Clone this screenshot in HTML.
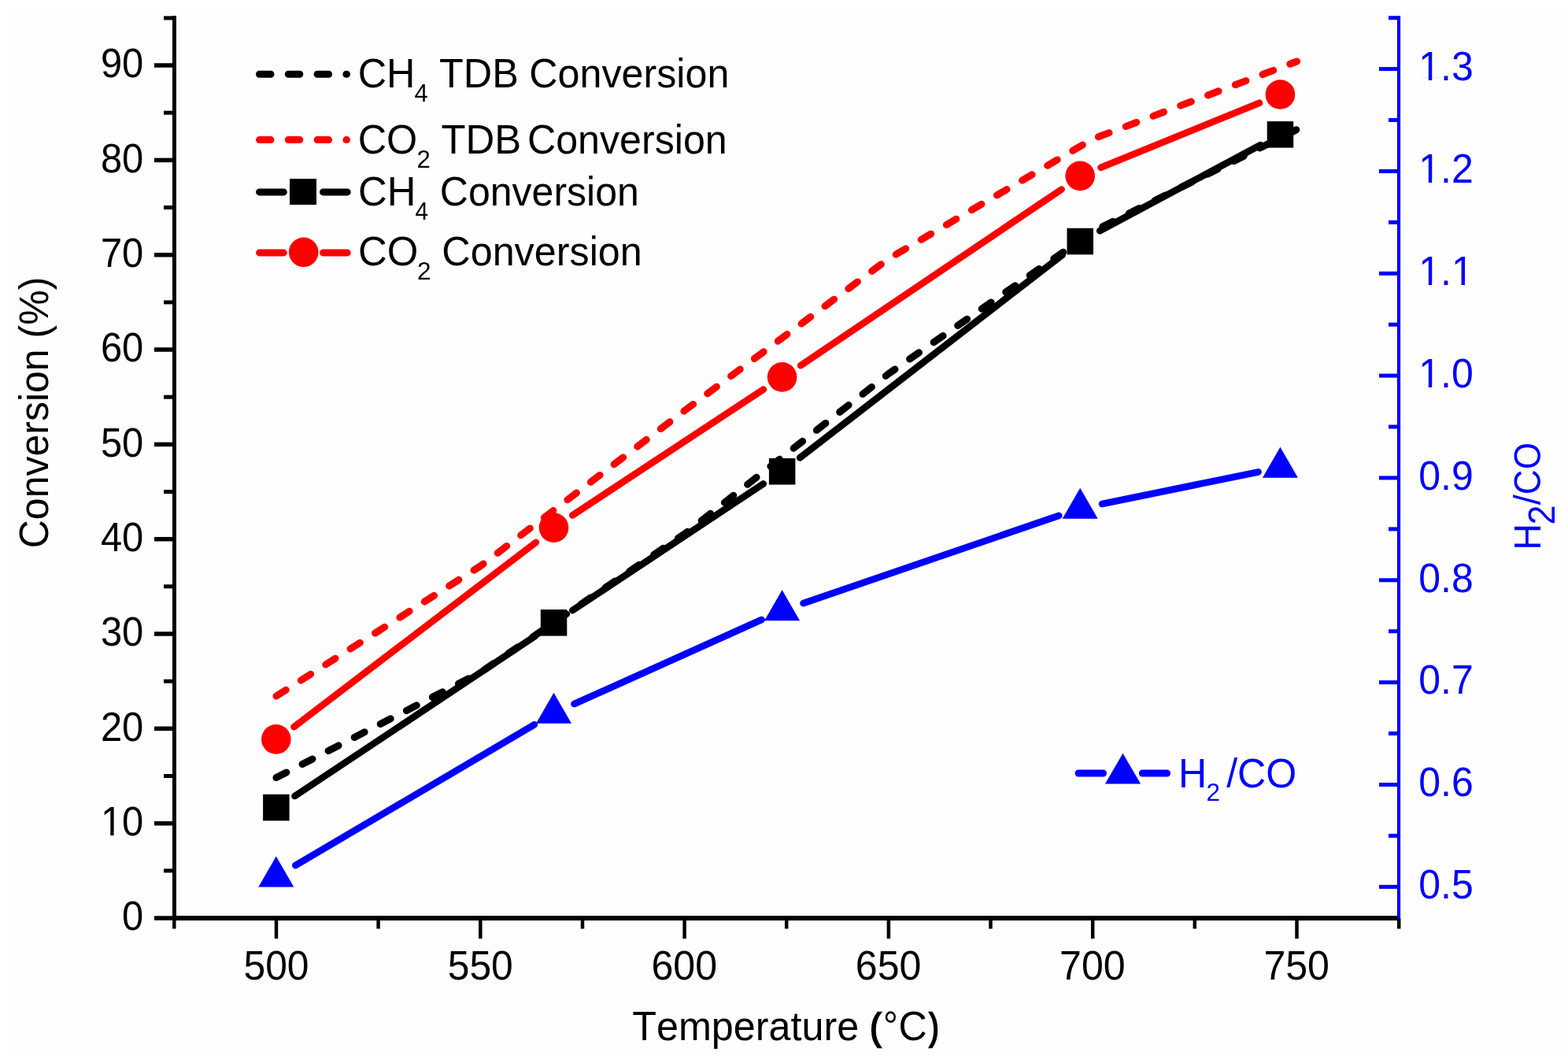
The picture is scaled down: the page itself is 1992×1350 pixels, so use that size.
<!DOCTYPE html>
<html><head><meta charset="utf-8"><title>Conversion vs Temperature</title><style>html,body{margin:0;padding:0;background:#fff;overflow:hidden}svg{display:block}text{font-family:"Liberation Sans",Arial,sans-serif;font-kerning:none;font-feature-settings:"kern" 0}</style></head><body>
<svg width="1992" height="1350" viewBox="0 0 1992 1350">
<rect x="9" y="18" width="1983" height="1319" fill="#fefefe"/>
<line x1="221.5" y1="20" x2="221.5" y2="1169" stroke="#000" stroke-width="5"/>
<line x1="196" y1="1166.0" x2="221.5" y2="1166.0" stroke="#000" stroke-width="5.5"/>
<line x1="196" y1="1045.7" x2="221.5" y2="1045.7" stroke="#000" stroke-width="5.5"/>
<line x1="196" y1="925.3" x2="221.5" y2="925.3" stroke="#000" stroke-width="5.5"/>
<line x1="196" y1="805.0" x2="221.5" y2="805.0" stroke="#000" stroke-width="5.5"/>
<line x1="196" y1="684.7" x2="221.5" y2="684.7" stroke="#000" stroke-width="5.5"/>
<line x1="196" y1="564.4" x2="221.5" y2="564.4" stroke="#000" stroke-width="5.5"/>
<line x1="196" y1="444.0" x2="221.5" y2="444.0" stroke="#000" stroke-width="5.5"/>
<line x1="196" y1="323.7" x2="221.5" y2="323.7" stroke="#000" stroke-width="5.5"/>
<line x1="196" y1="203.4" x2="221.5" y2="203.4" stroke="#000" stroke-width="5.5"/>
<line x1="196" y1="83.0" x2="221.5" y2="83.0" stroke="#000" stroke-width="5.5"/>
<line x1="208" y1="1105.8" x2="221.5" y2="1105.8" stroke="#000" stroke-width="5"/>
<line x1="208" y1="985.5" x2="221.5" y2="985.5" stroke="#000" stroke-width="5"/>
<line x1="208" y1="865.2" x2="221.5" y2="865.2" stroke="#000" stroke-width="5"/>
<line x1="208" y1="744.8" x2="221.5" y2="744.8" stroke="#000" stroke-width="5"/>
<line x1="208" y1="624.5" x2="221.5" y2="624.5" stroke="#000" stroke-width="5"/>
<line x1="208" y1="504.2" x2="221.5" y2="504.2" stroke="#000" stroke-width="5"/>
<line x1="208" y1="383.9" x2="221.5" y2="383.9" stroke="#000" stroke-width="5"/>
<line x1="208" y1="263.5" x2="221.5" y2="263.5" stroke="#000" stroke-width="5"/>
<line x1="208" y1="143.2" x2="221.5" y2="143.2" stroke="#000" stroke-width="5"/>
<line x1="208" y1="22.9" x2="221.5" y2="22.9" stroke="#000" stroke-width="5"/>
<text x="155.12" y="1181.20" font-size="52" fill="#000" textLength="27.18" lengthAdjust="spacingAndGlyphs">0</text>
<text x="127.94" y="1060.87" font-size="52" fill="#000" textLength="54.37" lengthAdjust="spacingAndGlyphs">10</text><rect x="130.86" y="1056.59" width="9.37" height="5.08" fill="#fefefe"/><rect x="144.55" y="1056.59" width="9.99" height="5.08" fill="#fefefe"/>
<text x="127.94" y="940.54" font-size="52" fill="#000" textLength="54.37" lengthAdjust="spacingAndGlyphs">20</text>
<text x="127.94" y="820.21" font-size="52" fill="#000" textLength="54.37" lengthAdjust="spacingAndGlyphs">30</text>
<text x="127.94" y="699.88" font-size="52" fill="#000" textLength="54.37" lengthAdjust="spacingAndGlyphs">40</text>
<text x="127.94" y="579.55" font-size="52" fill="#000" textLength="54.37" lengthAdjust="spacingAndGlyphs">50</text>
<text x="127.94" y="459.22" font-size="52" fill="#000" textLength="54.37" lengthAdjust="spacingAndGlyphs">60</text>
<text x="127.94" y="338.89" font-size="52" fill="#000" textLength="54.37" lengthAdjust="spacingAndGlyphs">70</text>
<text x="127.94" y="218.56" font-size="52" fill="#000" textLength="54.37" lengthAdjust="spacingAndGlyphs">80</text>
<text x="127.94" y="98.23" font-size="52" fill="#000" textLength="54.37" lengthAdjust="spacingAndGlyphs">90</text>
<line x1="219" y1="1166" x2="1779" y2="1166" stroke="#000" stroke-width="6"/>
<line x1="351.0" y1="1166" x2="351.0" y2="1192" stroke="#000" stroke-width="4.5"/>
<text x="309.46" y="1244.40" font-size="52" fill="#000" textLength="83.04" lengthAdjust="spacingAndGlyphs">500</text>
<line x1="610.3" y1="1166" x2="610.3" y2="1192" stroke="#000" stroke-width="4.5"/>
<text x="568.76" y="1244.40" font-size="52" fill="#000" textLength="83.04" lengthAdjust="spacingAndGlyphs">550</text>
<line x1="869.6" y1="1166" x2="869.6" y2="1192" stroke="#000" stroke-width="4.5"/>
<text x="827.51" y="1244.40" font-size="52" fill="#000" textLength="83.60" lengthAdjust="spacingAndGlyphs">600</text>
<line x1="1128.9" y1="1166" x2="1128.9" y2="1192" stroke="#000" stroke-width="4.5"/>
<text x="1086.81" y="1244.40" font-size="52" fill="#000" textLength="83.60" lengthAdjust="spacingAndGlyphs">650</text>
<line x1="1388.2" y1="1166" x2="1388.2" y2="1192" stroke="#000" stroke-width="4.5"/>
<text x="1346.08" y="1244.40" font-size="52" fill="#000" textLength="83.63" lengthAdjust="spacingAndGlyphs">700</text>
<line x1="1647.5" y1="1166" x2="1647.5" y2="1192" stroke="#000" stroke-width="4.5"/>
<text x="1605.38" y="1244.40" font-size="52" fill="#000" textLength="83.63" lengthAdjust="spacingAndGlyphs">750</text>
<line x1="221.3" y1="1166" x2="221.3" y2="1179.5" stroke="#000" stroke-width="4.5"/>
<line x1="480.6" y1="1166" x2="480.6" y2="1179.5" stroke="#000" stroke-width="4.5"/>
<line x1="740.0" y1="1166" x2="740.0" y2="1179.5" stroke="#000" stroke-width="4.5"/>
<line x1="999.2" y1="1166" x2="999.2" y2="1179.5" stroke="#000" stroke-width="4.5"/>
<line x1="1258.5" y1="1166" x2="1258.5" y2="1179.5" stroke="#000" stroke-width="4.5"/>
<line x1="1517.8" y1="1166" x2="1517.8" y2="1179.5" stroke="#000" stroke-width="4.5"/>
<line x1="1777.2" y1="1166" x2="1777.2" y2="1179.5" stroke="#000" stroke-width="4.5"/>
<line x1="1777" y1="20" x2="1777" y2="1166.5" stroke="#0000ff" stroke-width="4.2"/>
<line x1="1752" y1="1126.3" x2="1777" y2="1126.3" stroke="#0000ff" stroke-width="5"/>
<text x="1802.20" y="1141.10" font-size="52" fill="#0000ff" textLength="69.54" lengthAdjust="spacingAndGlyphs">0.5</text>
<line x1="1752" y1="996.5" x2="1777" y2="996.5" stroke="#0000ff" stroke-width="5"/>
<text x="1802.20" y="1011.26" font-size="52" fill="#0000ff" textLength="69.54" lengthAdjust="spacingAndGlyphs">0.6</text>
<line x1="1752" y1="866.6" x2="1777" y2="866.6" stroke="#0000ff" stroke-width="5"/>
<text x="1802.20" y="881.42" font-size="52" fill="#0000ff" textLength="69.54" lengthAdjust="spacingAndGlyphs">0.7</text>
<line x1="1752" y1="736.8" x2="1777" y2="736.8" stroke="#0000ff" stroke-width="5"/>
<text x="1802.20" y="751.58" font-size="52" fill="#0000ff" textLength="69.54" lengthAdjust="spacingAndGlyphs">0.8</text>
<line x1="1752" y1="606.9" x2="1777" y2="606.9" stroke="#0000ff" stroke-width="5"/>
<text x="1802.20" y="621.74" font-size="52" fill="#0000ff" textLength="69.54" lengthAdjust="spacingAndGlyphs">0.9</text>
<line x1="1752" y1="477.1" x2="1777" y2="477.1" stroke="#0000ff" stroke-width="5"/>
<text x="1802.20" y="491.90" font-size="52" fill="#0000ff" textLength="69.54" lengthAdjust="spacingAndGlyphs">1.0</text><rect x="1805.21" y="487.62" width="9.57" height="5.08" fill="#fefefe"/><rect x="1819.20" y="487.62" width="10.18" height="5.08" fill="#fefefe"/>
<line x1="1752" y1="347.3" x2="1777" y2="347.3" stroke="#0000ff" stroke-width="5"/>
<text x="1802.20" y="362.06" font-size="52" fill="#0000ff" textLength="69.54" lengthAdjust="spacingAndGlyphs">1.1</text><rect x="1805.21" y="357.78" width="9.57" height="5.08" fill="#fefefe"/><rect x="1819.20" y="357.78" width="10.18" height="5.08" fill="#fefefe"/><rect x="1846.93" y="357.78" width="9.57" height="5.08" fill="#fefefe"/><rect x="1860.92" y="357.78" width="10.18" height="5.08" fill="#fefefe"/>
<line x1="1752" y1="217.4" x2="1777" y2="217.4" stroke="#0000ff" stroke-width="5"/>
<text x="1802.20" y="232.22" font-size="52" fill="#0000ff" textLength="69.54" lengthAdjust="spacingAndGlyphs">1.2</text><rect x="1805.21" y="227.94" width="9.57" height="5.08" fill="#fefefe"/><rect x="1819.20" y="227.94" width="10.18" height="5.08" fill="#fefefe"/>
<line x1="1752" y1="87.6" x2="1777" y2="87.6" stroke="#0000ff" stroke-width="5"/>
<text x="1802.20" y="102.38" font-size="52" fill="#0000ff" textLength="69.54" lengthAdjust="spacingAndGlyphs">1.3</text><rect x="1805.21" y="98.10" width="9.57" height="5.08" fill="#fefefe"/><rect x="1819.20" y="98.10" width="10.18" height="5.08" fill="#fefefe"/>
<line x1="1764" y1="1061.4" x2="1777" y2="1061.4" stroke="#0000ff" stroke-width="5"/>
<line x1="1764" y1="931.5" x2="1777" y2="931.5" stroke="#0000ff" stroke-width="5"/>
<line x1="1764" y1="801.7" x2="1777" y2="801.7" stroke="#0000ff" stroke-width="5"/>
<line x1="1764" y1="671.9" x2="1777" y2="671.9" stroke="#0000ff" stroke-width="5"/>
<line x1="1764" y1="542.0" x2="1777" y2="542.0" stroke="#0000ff" stroke-width="5"/>
<line x1="1764" y1="412.2" x2="1777" y2="412.2" stroke="#0000ff" stroke-width="5"/>
<line x1="1764" y1="282.3" x2="1777" y2="282.3" stroke="#0000ff" stroke-width="5"/>
<line x1="1764" y1="152.5" x2="1777" y2="152.5" stroke="#0000ff" stroke-width="5"/>
<line x1="1764" y1="22.7" x2="1777" y2="22.7" stroke="#0000ff" stroke-width="5"/>
<text transform="translate(60.6,0) rotate(-90)" x="-696.24" y="0" font-size="52" fill="#000" textLength="344.54" lengthAdjust="spacingAndGlyphs">Conversion (%)</text>
<text x="803.17" y="1321.10" font-size="52" fill="#000" textLength="288.07" lengthAdjust="spacingAndGlyphs">Temperature</text>
<text x="1105.60" y="1320.30" font-size="46.5" fill="#000" textLength="13.44" lengthAdjust="spacingAndGlyphs" stroke="#000" stroke-width="2.6">(</text>
<text x="1121.99" y="1321.10" font-size="52" fill="#000" textLength="18.83" lengthAdjust="spacingAndGlyphs">°</text>
<text x="1141.55" y="1321.10" font-size="52" fill="#000" textLength="36.26" lengthAdjust="spacingAndGlyphs">C</text>
<text x="1180.79" y="1320.30" font-size="46.5" fill="#000" textLength="11.68" lengthAdjust="spacingAndGlyphs" stroke="#000" stroke-width="2.6">)</text>
<text transform="translate(1957.0,0) rotate(-90)" x="-698.60" y="0" font-size="47.5" fill="#0000ff" textLength="33.48" lengthAdjust="spacingAndGlyphs">H</text>
<text transform="translate(1975.1,0) rotate(-90)" x="-666.46" y="0" font-size="47.5" fill="#0000ff" textLength="25.03" lengthAdjust="spacingAndGlyphs">2</text>
<text transform="translate(1957.0,0) rotate(-90)" x="-641.30" y="0" font-size="47.5" fill="#0000ff" textLength="13.10" lengthAdjust="spacingAndGlyphs">/</text>
<text transform="translate(1957.0,0) rotate(-90)" x="-628.14" y="0" font-size="47.5" fill="#0000ff" textLength="31.82" lengthAdjust="spacingAndGlyphs">C</text>
<text transform="translate(1957.0,0) rotate(-90)" x="-595.97" y="0" font-size="47.5" fill="#0000ff" textLength="34.07" lengthAdjust="spacingAndGlyphs">O</text>
<polyline points="351.0,987.6 610.3,854.0 869.7,678.0 1129.0,474.5 1388.3,294.0 1647.6,164.5" fill="none" stroke="#000" stroke-width="9" stroke-linecap="round" stroke-linejoin="round" stroke-dasharray="14.5 22.7"/>
<polyline points="351.0,884.0 610.3,718.9 869.7,521.5 1129.0,328.5 1388.3,176.5 1647.6,78.0" fill="none" stroke="#f00" stroke-width="9" stroke-linecap="round" stroke-linejoin="round" stroke-dasharray="14.5 22.7"/>
<line x1="374.5" y1="1011.0" x2="679.8" y2="807.9" stroke="#000" stroke-width="8.7" stroke-linecap="round"/>
<line x1="727.3" y1="775.2" x2="969.8" y2="614.4" stroke="#000" stroke-width="8.7" stroke-linecap="round"/>
<line x1="1016.2" y1="581.3" x2="1349.6" y2="323.9" stroke="#000" stroke-width="8.7" stroke-linecap="round"/>
<line x1="1397.3" y1="293.1" x2="1601.3" y2="184.2" stroke="#000" stroke-width="8.7" stroke-linecap="round"/>
<line x1="373.5" y1="923.1" x2="680.8" y2="688.9" stroke="#f00" stroke-width="8.7" stroke-linecap="round"/>
<line x1="727.3" y1="654.4" x2="969.8" y2="494.6" stroke="#f00" stroke-width="8.7" stroke-linecap="round"/>
<line x1="1017.2" y1="464.2" x2="1348.6" y2="240.5" stroke="#f00" stroke-width="8.7" stroke-linecap="round"/>
<line x1="1398.6" y1="212.7" x2="1600.0" y2="130.7" stroke="#f00" stroke-width="8.7" stroke-linecap="round"/>
<line x1="375.4" y1="1099.1" x2="678.9" y2="920.2" stroke="#0000ff" stroke-width="8.7" stroke-linecap="round"/>
<line x1="729.5" y1="894.0" x2="967.6" y2="787.0" stroke="#0000ff" stroke-width="8.7" stroke-linecap="round"/>
<line x1="1020.6" y1="766.1" x2="1345.2" y2="654.9" stroke="#0000ff" stroke-width="8.7" stroke-linecap="round"/>
<line x1="1400.1" y1="640.0" x2="1598.5" y2="599.4" stroke="#0000ff" stroke-width="8.7" stroke-linecap="round"/>
<rect x="334.1" y="1008.8" width="33.5" height="33.5" fill="#000"/>
<rect x="686.8" y="774.1" width="33.5" height="33.5" fill="#000"/>
<rect x="976.9" y="582.0" width="33.5" height="33.5" fill="#000"/>
<rect x="1355.5" y="289.8" width="33.5" height="33.5" fill="#000"/>
<rect x="1609.7" y="154.1" width="33.5" height="33.5" fill="#000"/>
<circle cx="350.8" cy="938.9" r="18.8" fill="#f00"/>
<circle cx="703.5" cy="670.1" r="18.8" fill="#f00"/>
<circle cx="993.6" cy="478.9" r="18.8" fill="#f00"/>
<circle cx="1372.2" cy="223.4" r="18.8" fill="#f00"/>
<circle cx="1626.4" cy="120.0" r="18.8" fill="#f00"/>
<polygon points="350.8,1087.6 373.3,1126.6 328.3,1126.6" fill="#0000ff"/>
<polygon points="703.5,879.7 726.0,918.7 681.0,918.7" fill="#0000ff"/>
<polygon points="993.6,749.3 1016.1,788.3 971.1,788.3" fill="#0000ff"/>
<polygon points="1372.2,619.7 1394.7,658.7 1349.7,658.7" fill="#0000ff"/>
<polygon points="1626.4,567.7 1648.9,606.7 1603.9,606.7" fill="#0000ff"/>
<line x1="329.5" y1="94.2" x2="440.5" y2="94.2" stroke="#000" stroke-width="9" stroke-linecap="round" stroke-dasharray="14.5 22.3"/>
<line x1="329.5" y1="177.6" x2="440.5" y2="177.6" stroke="#f00" stroke-width="9" stroke-linecap="round" stroke-dasharray="14.5 22.3"/>
<line x1="329.6" y1="243.9" x2="360.3" y2="243.9" stroke="#000" stroke-width="9" stroke-linecap="round"/><line x1="410.5" y1="243.9" x2="441.2" y2="243.9" stroke="#000" stroke-width="9" stroke-linecap="round"/>
<rect x="368" y="227" width="34" height="33" fill="#000"/>
<line x1="329.6" y1="320.9" x2="360.3" y2="320.9" stroke="#f00" stroke-width="9" stroke-linecap="round"/><line x1="410.5" y1="320.9" x2="441.2" y2="320.9" stroke="#f00" stroke-width="9" stroke-linecap="round"/>
<circle cx="385.7" cy="320.3" r="18.8" fill="#f00"/>
<text x="454.64" y="111.30" font-size="52" fill="#000" textLength="72.77" lengthAdjust="spacingAndGlyphs">CH</text>
<text x="526.49" y="129.00" font-size="30.5" fill="#000" textLength="17.22" lengthAdjust="spacingAndGlyphs">4</text>
<text x="557.97" y="111.30" font-size="52" fill="#000" textLength="100.79" lengthAdjust="spacingAndGlyphs">TDB</text>
<text x="672.35" y="111.30" font-size="52" fill="#000" textLength="254.01" lengthAdjust="spacingAndGlyphs">Conversion</text>
<text x="454.64" y="195.00" font-size="52" fill="#000" textLength="75.57" lengthAdjust="spacingAndGlyphs">CO</text>
<text x="529.53" y="212.70" font-size="30.5" fill="#000" textLength="17.34" lengthAdjust="spacingAndGlyphs">2</text>
<text x="560.56" y="195.00" font-size="52" fill="#000" textLength="101.62" lengthAdjust="spacingAndGlyphs">TDB</text>
<text x="669.95" y="195.00" font-size="52" fill="#000" textLength="253.81" lengthAdjust="spacingAndGlyphs">Conversion</text>
<text x="455.02" y="261.10" font-size="52" fill="#000" textLength="73.32" lengthAdjust="spacingAndGlyphs">CH</text>
<text x="527.62" y="278.80" font-size="30.5" fill="#000" textLength="16.56" lengthAdjust="spacingAndGlyphs">4</text>
<text x="558.86" y="261.10" font-size="52" fill="#000" textLength="252.99" lengthAdjust="spacingAndGlyphs">Conversion</text>
<text x="455.02" y="337.30" font-size="52" fill="#000" textLength="76.32" lengthAdjust="spacingAndGlyphs">CO</text>
<text x="530.11" y="355.00" font-size="30.5" fill="#000" textLength="17.58" lengthAdjust="spacingAndGlyphs">2</text>
<text x="561.35" y="337.30" font-size="52" fill="#000" textLength="254.42" lengthAdjust="spacingAndGlyphs">Conversion</text>
<line x1="1370.1" y1="982" x2="1401.5" y2="982" stroke="#0000ff" stroke-width="9" stroke-linecap="round"/><line x1="1451.3" y1="982" x2="1482.5" y2="982" stroke="#0000ff" stroke-width="9" stroke-linecap="round"/>
<polygon points="1426.5,956.8 1449.1,995.6 1403.9,995.6" fill="#0000ff"/>
<text x="1496.89" y="999.90" font-size="52" fill="#0000ff" textLength="36.20" lengthAdjust="spacingAndGlyphs">H</text>
<text x="1532.52" y="1016.60" font-size="30.5" fill="#0000ff" textLength="17.46" lengthAdjust="spacingAndGlyphs">2</text>
<text x="1558.20" y="999.90" font-size="52" fill="#0000ff" textLength="89.10" lengthAdjust="spacingAndGlyphs">/CO</text>
</svg></body></html>
